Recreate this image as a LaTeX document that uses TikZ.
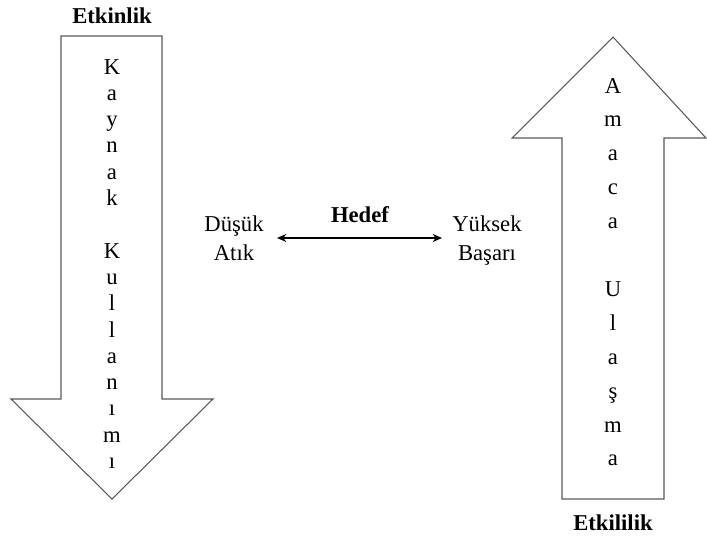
\documentclass[tikz,border=0pt]{standalone}
\usepackage{fontspec}
\setmainfont{Liberation Serif}
\usetikzlibrary{arrows.meta}
\begin{document}
\begin{tikzpicture}[x=0.75pt,y=-0.75pt,
  font=\fontsize{17}{20}\selectfont,
  outline/.style={draw=black!65,line width=0.8pt,line join=miter},
  letter/.style={anchor=base,inner sep=0pt},
  caption/.style={anchor=base,inner sep=0pt,font=\fontsize{17}{20}\selectfont\bfseries},
  word/.style={anchor=base,inner sep=0pt},
  link/.style={draw=black,line width=1pt,{Stealth[length=7pt,width=6pt]}-{Stealth[length=7pt,width=6pt]}}]
\useasboundingbox (0,0) rectangle (707,536);

% downward arrow
\draw[outline] (61,36) -- (162,36) -- (162,207+192) -- (213,399) -- (112,499)
  -- (11,399) -- (61,399) -- cycle;
% upward arrow
\draw[outline] (613,37) -- (706,138) -- (664,138) -- (664,499) -- (562,499)
  -- (562,138) -- (512,138) -- cycle;

% vertical lettering, downward arrow
\foreach \ch [count=\i from 0] in {K,a,y,n,a,k,{},K,u,l,l,a,n,ı,m,ı}
  \node[letter] (d\i) at (112,74+26.3*\i) {\ch};
% vertical lettering, upward arrow
\foreach \ch [count=\i from 0] in {A,m,a,c,a,{},U,l,a,ş,m,a}
  \node[letter] (u\i) at (613,93+33.9*\i) {\ch};

% captions
\node[caption] (etkinlik) at (112,23) {Etkinlik};
\node[caption] (etkililik) at (613,530) {Etkililik};
\node[caption] (hedef) at (360,222) {Hedef};

% end points of the goal line
\node[word] (dusuk) at (234,231) {Düşük};
\node[word] (atik) at (234,260) {Atık};
\node[word] (yuksek) at (487,231) {Yüksek};
\node[word] (basari) at (487,260) {Başarı};

\coordinate (lend) at (277,238);
\coordinate (rend) at (442,238);
\draw[link] (lend) -- (rend);
\end{tikzpicture}
\end{document}
